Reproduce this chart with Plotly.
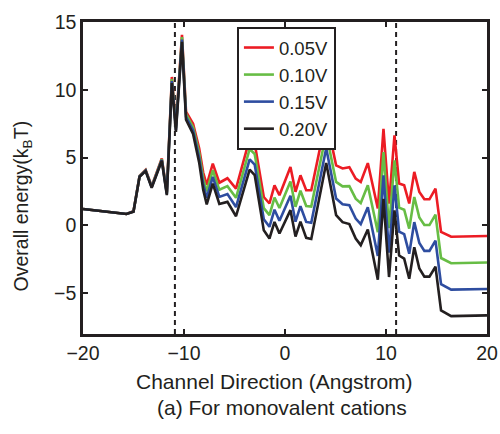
import plotly.graph_objects as go

x = [-20, -15.7, -15.0, -14.4, -13.8, -13.2, -12.2, -11.7, -11.2, -10.8, -10.2, -9.8, -9.1, -8.5,
     -8.1, -7.75, -7.15, -6.5, -5.7, -4.85, -3.5, -3.0, -2.1, -1.54, -1.04, -0.55, 0.54, 1.04,
     1.53, 2.1, 2.6, 4.08, 5.06, 5.7, 6.37, 7.0, 7.5, 8.2, 9.19, 9.75, 10.3, 10.84, 11.3, 11.8,
     12.3, 12.8, 13.3, 13.8, 14.3, 14.9, 15.45, 16.45, 20]

v005 = [1.22, 0.85, 1.05, 3.65, 4.1, 2.9, 4.95, 2.45, 10.95, 7.35, 14.05, 8.4, 7.5, 5.7,
        3.9, 3.0, 4.56, 3.15, 3.48, 2.72, 6.4, 6.05, 2.1, 1.62, 2.96, 2.23, 4.31, 2.48,
        3.7, 2.6, 2.6, 7.9, 4.43, 4.2, 4.3, 3.45, 3.2, 4.6, 1.25, 7.13, 1.6, 6.64, 3.09, 2.96,
        1.62, 3.95, 2.47, 1.93, 1.93, 2.72, -0.47, -0.83, -0.78]

v010 = [1.22, 0.85, 1.04, 3.63, 4.07, 2.86, 4.89, 2.38, 10.8, 7.2, 13.88, 8.2, 7.25, 5.35,
        3.48, 2.52, 4.07, 2.63, 2.9, 2.04, 5.64, 5.27, 1.28, 0.76, 2.06, 1.29, 3.25, 1.38,
        2.56, 1.43, 1.4, 6.8, 3.21, 2.88, 2.9, 1.98, 1.65, 2.97, -0.5, 5.41, -0.2, 4.8, 1.32, 1.16,
        -0.23, 2.1, 0.59, 0.03, 0.03, 0.8, -2.4, -2.78, -2.73]

v015 = [1.22, 0.85, 1.03, 3.61, 4.04, 2.82, 4.83, 2.31, 10.65, 7.05, 13.71, 8.0, 7.0, 5.0,
        3.06, 2.04, 3.58, 2.11, 2.32, 1.36, 4.88, 4.49, 0.46, -0.1, 1.16, 0.35, 2.19, 0.28,
        1.42, 0.26, 0.2, 5.7, 1.99, 1.56, 1.5, 0.51, 0.1, 1.34, -2.25, 3.69, -2.0, 2.96, -0.45, -0.64,
        -2.08, 0.25, -1.29, -1.87, -1.87, -1.12, -4.33, -4.73, -4.68]

v020 = [1.22, 0.85, 1.02, 3.59, 4.01, 2.78, 4.77, 2.24, 10.5, 6.9, 13.54, 7.8, 6.75, 4.65,
        2.64, 1.56, 3.09, 1.59, 1.74, 0.68, 4.12, 3.71, -0.36, -0.96, 0.26, -0.59, 1.13, -0.82,
        0.28, -0.91, -1.0, 4.6, 0.77, 0.24, 0.1, -0.96, -1.45, -0.29, -4.0, 1.97, -3.8, 1.12, -2.22, -2.44,
        -3.93, -1.6, -3.17, -3.77, -3.77, -3.04, -6.26, -6.68, -6.63]

series = [("0.05V", v005, "#EC1C24"), ("0.10V", v010, "#67BD45"),
          ("0.15V", v015, "#2E4DA0"), ("0.20V", v020, "#231F20")]

boundaries = [-10.9, 11.0]
x_ticks = [-20, -10, 0, 10, 20]
y_ticks = [-5, 0, 5, 10, 15]

FONT = "Liberation Sans, Arial, Helvetica, sans-serif"
INK = "#231F20"

fig = go.Figure()
for name, vals, col in series:
    fig.add_trace(go.Scatter(x=x, y=vals, mode="lines", name=name,
                             line=dict(color=col, width=2.6)))

for b in boundaries:
    fig.add_shape(type="line", xref="x", yref="y", x0=b, x1=b, y0=-8, y1=15,
                  line=dict(color=INK, width=2, dash="5px,4px"), layer="below")

axis_common = dict(showline=True, linecolor=INK, linewidth=2.5, mirror="allticks",
                   ticks="inside", ticklen=5, tickwidth=2, tickcolor=INK,
                   showgrid=False, zeroline=False, automargin=False,
                   tickfont=dict(family=FONT, size=19.5, color=INK))

fig.update_layout(
    width=500, height=434,
    margin=dict(l=83, r=13, t=22, b=100, autoexpand=False),
    paper_bgcolor="white", plot_bgcolor="white",
    font=dict(family=FONT, color=INK),
    xaxis=dict(range=[-20, 20], tickvals=x_ticks, **axis_common),
    yaxis=dict(range=[-8, 15], tickvals=y_ticks, **axis_common),
    legend=dict(x=0.381, y=0.984, xanchor="left", yanchor="top",
                bgcolor="white", bordercolor=INK, borderwidth=2,
                font=dict(family=FONT, size=18.5, color=INK),
                itemwidth=30, tracegroupgap=0),
    showlegend=True,
    annotations=[
        dict(text="Overall energy(k<sub>B</sub>T)", xref="paper", yref="paper",
             x=-0.151, y=0.412, xanchor="center", yanchor="middle", textangle=-90,
             showarrow=False, font=dict(family=FONT, size=19.5, color=INK)),
        dict(text="Channel Direction (Angstrom)", xref="paper", yref="paper",
             x=0.475, y=-0.152, xanchor="center", yanchor="middle", showarrow=False,
             font=dict(family=FONT, size=21, color=INK)),
        dict(text="(a) For monovalent cations", xref="paper", yref="paper",
             x=0.493, y=-0.235, xanchor="center", yanchor="middle", showarrow=False,
             font=dict(family=FONT, size=21, color=INK)),
    ],
)

fig.write_html("out.html")
